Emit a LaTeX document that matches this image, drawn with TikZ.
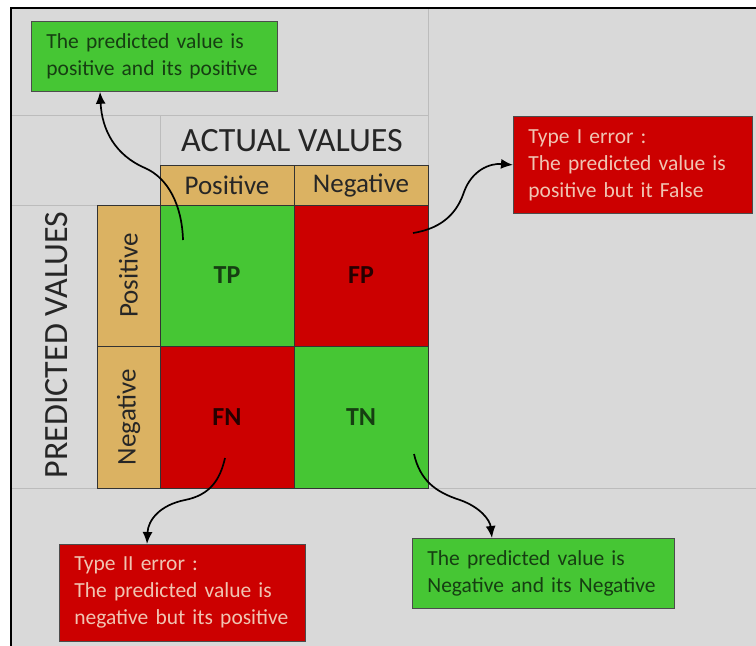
\documentclass[tikz,border=0pt]{standalone}
\usepackage{fontspec}
\setmainfont{Carlito}
\usepackage{xcolor}
\usetikzlibrary{positioning,arrows.meta}
\definecolor{sheet}{RGB}{217,217,217}
\definecolor{gridln}{RGB}{188,188,188}
\definecolor{okgreen}{RGB}{70,198,52}
\definecolor{errred}{RGB}{204,0,0}
\definecolor{hdrtan}{RGB}{219,178,98}
\definecolor{darkgrn}{RGB}{22,62,18}
\definecolor{pinktxt}{RGB}{240,196,178}
\tikzset{
  cell/.style={draw=black!80,line width=0.8pt,minimum width=134pt,minimum height=141pt,inner sep=0pt,outer sep=0pt,font=\fontsize{26}{30}\selectfont\bfseries},
  hdr/.style={draw=black!80,line width=0.8pt,fill=hdrtan,inner sep=0pt,outer sep=0pt,text=black!85,font=\fontsize{27}{30}\selectfont},
  note/.style={draw=black!70,line width=0.8pt,align=left,inner xsep=15pt,inner ysep=0pt,anchor=north west,font=\fontsize{21.5}{27}\selectfont},
  title/.style={text=black!85,font=\fontsize{34}{38}\selectfont},
  link/.style={line width=1.7pt,-{Latex[length=12pt,width=10pt]}}
}
\begin{document}
\begin{tikzpicture}[x=1pt,y=-1pt]
    \useasboundingbox (0,0) rectangle (756,646);
    \fill[white] (0,0) rectangle (756,646);
    \fill[sheet] (11,8) rectangle (756,646);
    \draw[gridln,line width=1pt] (428,8) -- (428,488) (11,115) -- (428,115) (160,115) -- (160,165)
        (11,205) -- (97,205) (11,488) -- (756,488);
    \draw[line width=2.5pt] (11,646) -- (11,8) -- (756,8);

    \node[cell,fill=okgreen,text=darkgrn] (tp) at (227,275.5) {TP};
    \node[cell,fill=errred,text=black!85!red,right=0pt of tp] (fp) {FP};
    \node[cell,fill=errred,text=black!85!red,minimum height=142pt,below=0pt of tp] (fn) {FN};
    \node[cell,fill=okgreen,text=darkgrn,minimum height=142pt,right=0pt of fn] (tn) {TN};

    \node[hdr,minimum width=134pt,minimum height=40pt,above=0pt of tp] (apos) {Positive};
    \node[hdr,minimum width=134pt,minimum height=40pt,above=0pt of fp] (aneg) {Negative};
    \node[hdr,minimum width=63pt,minimum height=141pt,left=0pt of tp] (ppos) {\rotatebox{90}{Positive}};
    \node[hdr,minimum width=63pt,minimum height=142pt,left=0pt of fn] (pneg) {\rotatebox{90}{Negative}};

    \node[title] (actual) at (292,141) {ACTUAL VALUES};
    \node[title,rotate=90] (predicted) at (57,345) {PREDICTED VALUES};

    \node[note,fill=okgreen,text=darkgrn,text width=216pt,minimum height=70pt] (tpnote) at (31,21)
        {The predicted value is\\positive and its positive};
    \node[note,fill=errred,text=pinktxt,text width=209pt,minimum height=97pt] (fpnote) at (513,116)
        {Type I error :\\The predicted value is\\positive but it False};
    \node[note,fill=errred,text=pinktxt,text width=216pt,minimum height=97pt] (fnnote) at (59,544)
        {Type II error :\\The predicted value is\\negative but its positive};
    \node[note,fill=okgreen,text=darkgrn,text width=232pt,minimum height=70pt] (tnnote) at (412,538)
        {The predicted value is\\Negative and its Negative};

    \coordinate (tpfrom) at (183,240);
    \coordinate (fpfrom) at (413,233);
    \coordinate (fnfrom) at (225,458);
    \coordinate (tnfrom) at (414,454);
    \coordinate (tpto) at ([xshift=69pt]tpnote.south west);
    \coordinate (fnto) at ([xshift=88pt]fnnote.north west);
    \coordinate (tnto) at ([xshift=80pt]tnnote.north west);

    \draw[link] (tpfrom) .. controls (182,205) and (168,178) .. (145,168) .. controls (115,155) and (102,130) .. (tpto);
    \draw[link] (fpfrom) .. controls (445,228) and (458,210) .. (464,192) .. controls (472,170) and (490,163) .. (fpnote.west);
    \draw[link] (fnfrom) .. controls (220,480) and (210,495) .. (185,500) .. controls (160,505) and (148,520) .. (fnto);
    \draw[link] (tnfrom) .. controls (420,480) and (435,492) .. (460,500) .. controls (480,507) and (490,520) .. (tnto);
\end{tikzpicture}
\end{document}
